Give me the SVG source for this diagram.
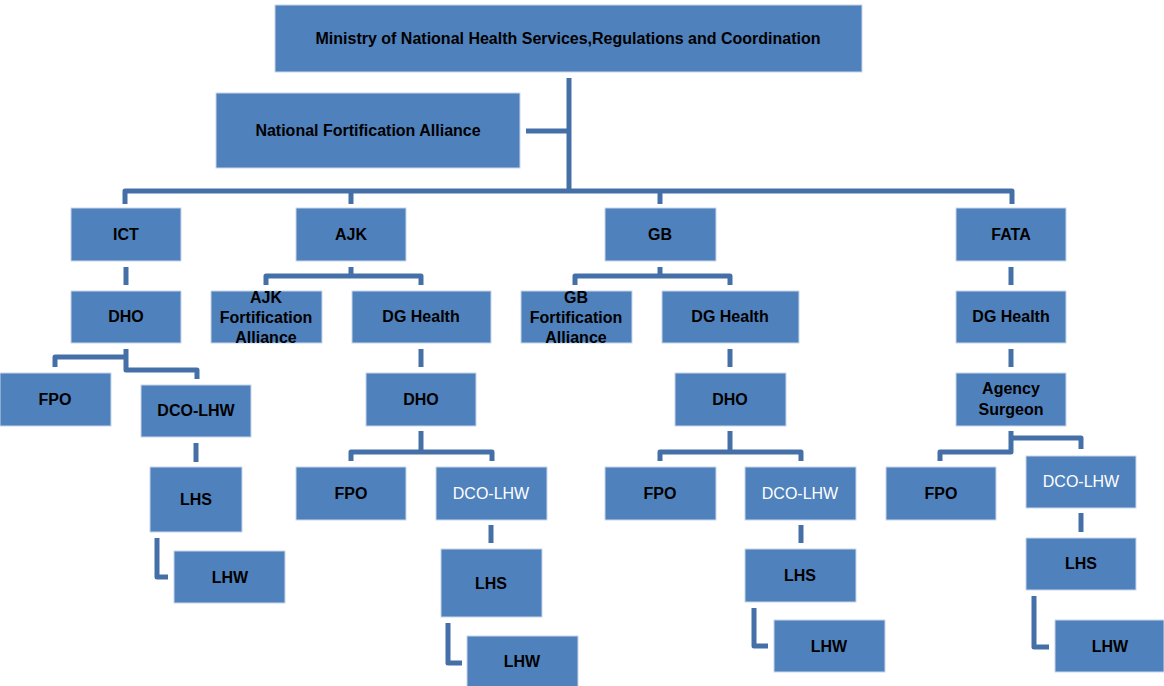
<svg xmlns="http://www.w3.org/2000/svg" width="1164" height="686" viewBox="0 0 1164 686">
<style>
.b{fill:#4F81BD;stroke:#c9d6ea;stroke-width:1}
.t{font-family:"Liberation Sans",Arial,sans-serif;font-size:16px;font-weight:bold;fill:#000;text-anchor:middle}
.w{font-family:"Liberation Sans",Arial,sans-serif;font-size:16px;fill:#fff;text-anchor:middle}
#connectors path{fill:none;stroke:#4570A7;stroke-width:5;stroke-linejoin:round}
</style>
<rect width="1164" height="686" fill="#fff"/>
<g id="connectors">
<path d="M569,78 V191"/>
<path d="M526,131 H569"/>
<path d="M125,204 V191 H1012 V204"/>
<path d="M351,191 V204"/>
<path d="M660,191 V204"/>
<path d="M126,267 V285"/>
<path d="M126,349 V370 H197 V379"/>
<path d="M126,357 H55 V367"/>
<path d="M196,443 V462"/>
<path d="M157,538 V577 H168"/>
<path d="M351,267 V276"/>
<path d="M266,285 V276 H421 V285"/>
<path d="M421,349 V367"/>
<path d="M421,431 V452"/>
<path d="M351,461 V452 H492 V461"/>
<path d="M491,525 V543"/>
<path d="M448,623 V663 H462"/>
<path d="M660,267 V276"/>
<path d="M575,285 V276 H730 V285"/>
<path d="M730,349 V367"/>
<path d="M730,431 V452"/>
<path d="M660,461 V452 H801 V461"/>
<path d="M801,525 V543"/>
<path d="M754,608 V646 H768"/>
<path d="M1011,267 V285"/>
<path d="M1011,349 V367"/>
<path d="M1011,431 V452 H940 V461"/>
<path d="M1011,438 H1081 V449"/>
<path d="M1081,513 V532"/>
<path d="M1034,596 V647 H1049"/>
</g>
<g id="ministry"><rect class="b" x="275" y="5" width="587" height="67"/><text class="t" x="568" y="44">Ministry of National Health Services,Regulations and Coordination</text></g>
<g id="nfa"><rect class="b" x="216" y="93" width="304" height="75"/><text class="t" x="368" y="136">National Fortification Alliance</text></g>
<g id="ict"><rect class="b" x="71" y="208" width="110" height="53"/><text class="t" x="126" y="240">ICT</text></g>
<g id="ajk"><rect class="b" x="296" y="208" width="110" height="53"/><text class="t" x="351" y="240">AJK</text></g>
<g id="gb"><rect class="b" x="605" y="208" width="111" height="53"/><text class="t" x="660" y="240">GB</text></g>
<g id="fata"><rect class="b" x="956" y="208" width="110" height="53"/><text class="t" x="1011" y="240">FATA</text></g>
<g id="ict-dho"><rect class="b" x="71" y="291" width="110" height="52"/><text class="t" x="126" y="322">DHO</text></g>
<g id="ajk-fa"><rect class="b" x="211" y="291" width="111" height="52"/><text class="t" x="266" y="303">AJK</text><text class="t" x="266" y="323">Fortification</text><text class="t" x="266" y="343">Alliance</text></g>
<g id="ajk-dg"><rect class="b" x="352" y="291" width="139" height="52"/><text class="t" x="421" y="322">DG Health</text></g>
<g id="gb-fa"><rect class="b" x="521" y="291" width="111" height="52"/><text class="t" x="576" y="303">GB</text><text class="t" x="576" y="323">Fortification</text><text class="t" x="576" y="343">Alliance</text></g>
<g id="gb-dg"><rect class="b" x="662" y="291" width="137" height="52"/><text class="t" x="730" y="322">DG Health</text></g>
<g id="fata-dg"><rect class="b" x="956" y="291" width="110" height="52"/><text class="t" x="1011" y="322">DG Health</text></g>
<g id="ajk-dho"><rect class="b" x="366" y="373" width="110" height="53"/><text class="t" x="421" y="405">DHO</text></g>
<g id="gb-dho"><rect class="b" x="675" y="373" width="111" height="53"/><text class="t" x="730" y="405">DHO</text></g>
<g id="agency"><rect class="b" x="956" y="373" width="110" height="53"/><text class="t" x="1011" y="394">Agency</text><text class="t" x="1011" y="415">Surgeon</text></g>
<g id="ict-fpo"><rect class="b" x="0" y="373" width="111" height="53"/><text class="t" x="55" y="405">FPO</text></g>
<g id="ict-dco"><rect class="b" x="141" y="385" width="110" height="52"/><text class="t" x="196" y="416">DCO-LHW</text></g>
<g id="ict-lhs"><rect class="b" x="150" y="467" width="92" height="65"/><text class="t" x="196" y="505">LHS</text></g>
<g id="ict-lhw"><rect class="b" x="174" y="551" width="111" height="52"/><text class="t" x="230" y="583">LHW</text></g>
<g id="ajk-fpo"><rect class="b" x="296" y="467" width="110" height="53"/><text class="t" x="351" y="499">FPO</text></g>
<g id="ajk-dco"><rect class="b" x="436" y="467" width="111" height="53"/><text class="w" x="491" y="499">DCO-LHW</text></g>
<g id="ajk-lhs"><rect class="b" x="441" y="549" width="101" height="68"/><text class="t" x="491" y="589">LHS</text></g>
<g id="ajk-lhw"><rect class="b" x="467" y="636" width="111" height="52"/><text class="t" x="522" y="667">LHW</text></g>
<g id="gb-fpo"><rect class="b" x="605" y="467" width="111" height="53"/><text class="t" x="660" y="499">FPO</text></g>
<g id="gb-dco"><rect class="b" x="745" y="467" width="111" height="53"/><text class="w" x="800" y="499">DCO-LHW</text></g>
<g id="gb-lhs"><rect class="b" x="745" y="549" width="111" height="53"/><text class="t" x="800" y="581">LHS</text></g>
<g id="gb-lhw"><rect class="b" x="774" y="620" width="111" height="52"/><text class="t" x="829" y="652">LHW</text></g>
<g id="fata-fpo"><rect class="b" x="886" y="467" width="110" height="53"/><text class="t" x="941" y="499">FPO</text></g>
<g id="fata-dco"><rect class="b" x="1026" y="456" width="110" height="52"/><text class="w" x="1081" y="487">DCO-LHW</text></g>
<g id="fata-lhs"><rect class="b" x="1026" y="538" width="110" height="52"/><text class="t" x="1081" y="569">LHS</text></g>
<g id="fata-lhw"><rect class="b" x="1055" y="620" width="109" height="52"/><text class="t" x="1110" y="652">LHW</text></g>
</svg>
